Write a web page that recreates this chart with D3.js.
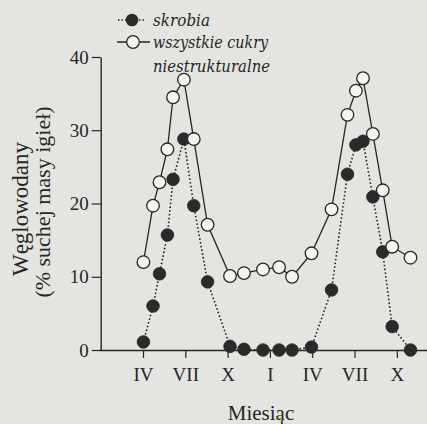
<!DOCTYPE html>
<html>
<head>
<meta charset="utf-8">
<script src="https://cdn.jsdelivr.net/npm/d3@7"></script>
<style>
  html, body { margin: 0; padding: 0; background: #e4e4e0; }
  svg { display: block; }
  .serif { font-family: "Liberation Serif", "Times New Roman", "DejaVu Serif", serif; }
  .leg { font-family: "DejaVu Serif", "Liberation Serif", serif; font-style: italic; }
</style>
</head>
<body>
<svg id="chart" width="427" height="424"></svg>
<script>
// months counted from January of the first year (0 = I)
const sampleMonths = [3.03, 3.71, 4.17, 4.73, 5.13, 5.9, 6.6, 7.58, 9.17, 10.16, 11.51, 12.65, 13.57, 14.95, 16.37, 17.5, 18.1, 18.6, 19.3, 20.0, 20.67, 21.97];
const starch = [1.1, 6.0, 10.4, 15.7, 23.3, 28.8, 19.7, 9.3, 0.5, 0.1, 0, 0, 0, 0.4, 8.2, 24.0, 28.0, 28.5, 20.9, 13.4, 3.2, 0];
const allSugars = [12.0, 19.7, 22.9, 27.4, 34.5, 36.9, 28.8, 17.1, 10.1, 10.5, 11.0, 11.3, 10.0, 13.2, 19.2, 32.1, 35.4, 37.1, 29.5, 21.8, 14.1, 12.6];
const xTickMonths = [3, 6, 9, 12, 15, 18, 21];
const xTickLabels = ["IV", "VII", "X", "I", "IV", "VII", "X"];
const yTicks = [0, 10, 20, 30, 40];
const legendLabels = ["skrobia", "wszystkie cukry", "niestrukturalne"];
const xTitle = "Miesiąc";
const yTitle = ["Węglowodany", "(% suchej masy igieł)"];

const ink = "#262626";
const svg = d3.select("#chart");

const x = d3.scaleLinear().domain([0, 23.14]).range([100.7, 427]);
const y = d3.scaleLinear().domain([0, 40]).range([350, 57]);

// x axis
const xAxis = svg.append("g")
  .attr("transform", `translate(0,${y(0)})`)
  .call(d3.axisBottom(x).tickValues(xTickMonths)
    .tickFormat((d, i) => xTickLabels[i]).tickSize(8).tickSizeOuter(0).tickPadding(10));
xAxis.attr("font-family", null).attr("font-size", null);
xAxis.select(".domain").attr("stroke", ink).attr("stroke-width", 1.4)
  .attr("d", `M${x.range()[0] - 1},0.5H427`);
xAxis.selectAll(".tick line").attr("stroke", ink).attr("stroke-width", 1.2);
xAxis.selectAll("text").attr("fill", ink).attr("class", "serif").style("font-size", "19px");

// y axis
const yAxis = svg.append("g")
  .attr("transform", `translate(${x.range()[0]},0)`)
  .call(d3.axisLeft(y).tickValues(yTicks).tickSize(9).tickSizeOuter(0).tickPadding(3));
yAxis.attr("font-family", null).attr("font-size", null);
yAxis.select(".domain").attr("stroke", ink).attr("stroke-width", 1.4);
yAxis.selectAll(".tick line").attr("stroke", ink).attr("stroke-width", 1.2);
yAxis.selectAll("text").attr("fill", ink).attr("class", "serif").style("font-size", "19px");

const pts = (vals) => sampleMonths.map((m, i) => [m, vals[i]]);
const line = d3.line().x(d => x(d[0])).y(d => y(d[1]));

// starch dotted line
svg.append("path").datum(pts(starch))
  .attr("d", line).attr("fill", "none")
  .attr("stroke", ink).attr("stroke-width", 1.6).attr("stroke-dasharray", "1.6,2.2");
// all sugars solid line
svg.append("path").datum(pts(allSugars))
  .attr("d", line).attr("fill", "none")
  .attr("stroke", ink).attr("stroke-width", 1.3);

const R = 6.3;
svg.append("g").selectAll("circle").data(pts(starch)).join("circle")
  .attr("cx", d => x(d[0])).attr("cy", d => y(d[1])).attr("r", R)
  .attr("fill", "#2a2a2a").attr("stroke", "#2a2a2a").attr("stroke-width", 0.8);
svg.append("g").selectAll("circle").data(pts(allSugars)).join("circle")
  .attr("cx", d => x(d[0])).attr("cy", d => y(d[1])).attr("r", R)
  .attr("fill", "#f4f4f1").attr("stroke", ink).attr("stroke-width", 1.3);

// axis titles
svg.append("text").attr("class", "serif").attr("x", 261).attr("y", 420).attr("text-anchor", "middle")
  .attr("fill", ink).style("font-size", "21px")
  .text(xTitle);
svg.append("text").attr("class", "serif").attr("transform", "translate(28,209) rotate(-90)").attr("text-anchor", "middle")
  .attr("fill", ink).style("font-size", "23px")
  .text(yTitle[0]);
svg.append("text").attr("class", "serif").attr("transform", "translate(50,202) rotate(-90)").attr("text-anchor", "middle")
  .attr("fill", ink).style("font-size", "22px")
  .text(yTitle[1]);

// legend
const lg = svg.append("g");
lg.append("line").attr("x1", 118).attr("x2", 145).attr("y1", 20).attr("y2", 20)
  .attr("stroke", ink).attr("stroke-width", 1.4).attr("stroke-dasharray", "1.5,2");
lg.append("circle").attr("cx", 132).attr("cy", 20).attr("r", R).attr("fill", "#2a2a2a");
lg.append("line").attr("x1", 117).attr("x2", 150).attr("y1", 42).attr("y2", 42)
  .attr("stroke", ink).attr("stroke-width", 1.3);
lg.append("circle").attr("cx", 133).attr("cy", 42).attr("r", R)
  .attr("fill", "#f4f4f1").attr("stroke", ink).attr("stroke-width", 1.3);
const legendY = [26, 48, 72];
legendLabels.forEach((t, i) => {
  lg.append("text").attr("class", "leg").attr("x", 153).attr("y", legendY[i]).attr("fill", ink)
    .style("font-size", "16px").attr("textLength", [57, 115, 117][i])
    .attr("lengthAdjust", "spacingAndGlyphs")
    .text(t);
});
</script>
</body>
</html>
